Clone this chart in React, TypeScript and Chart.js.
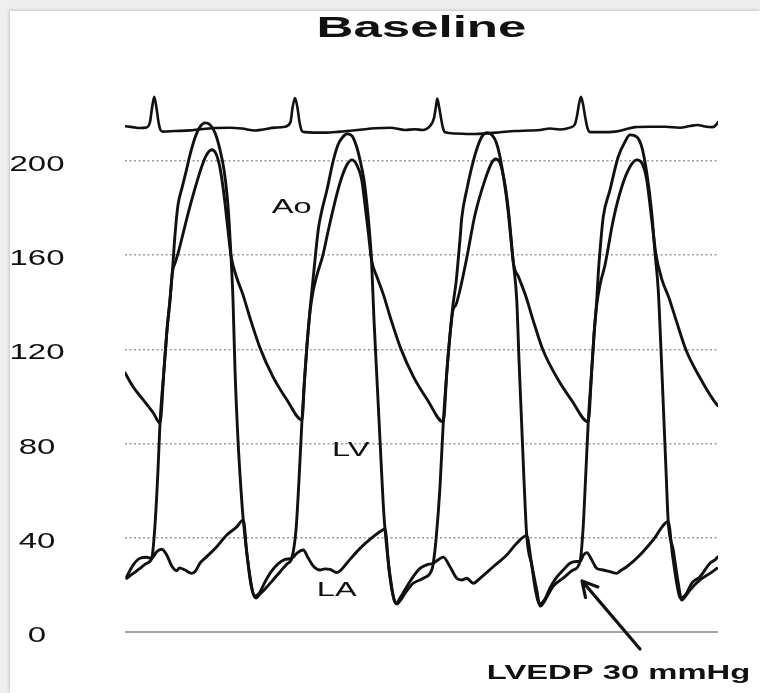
import React, { useEffect, useRef } from 'react';
import { Chart, registerables, LinearScale } from 'chart.js';

Chart.register(...registerables);

// ---- Pressure tracings (time in ms, pressure in mmHg) ----
const lvTime = [
  7, 33, 60, 87, 107, 120, 132, 140, 156, 168, 180, 190, 200, 212, 228, 244, 260, 280, 300, 320,
  340, 360, 380, 396, 408, 416, 424, 432, 440, 452, 464, 473, 496, 512, 524, 540, 564, 592, 620, 648,
  667, 684, 696, 708, 718, 728, 740, 752, 764, 774, 788, 808, 832, 852, 872, 888, 908, 924, 940, 956,
  968, 978, 986, 996, 1008, 1020, 1032, 1040, 1060, 1076, 1088, 1100, 1124, 1153, 1193, 1227, 1233, 1244, 1260, 1273,
  1288, 1300, 1312, 1324, 1332, 1340, 1347, 1367, 1400, 1427, 1449, 1468, 1484, 1500, 1520, 1532, 1542, 1553, 1567, 1576,
  1586, 1596, 1607, 1627, 1647, 1660, 1676, 1692, 1713, 1753, 1792, 1820, 1832, 1842, 1853, 1867, 1876, 1887, 1894, 1902,
  1913, 1940, 1973, 2000, 2020, 2047, 2067, 2087, 2107, 2120, 2133, 2144, 2154, 2164, 2173, 2193, 2213, 2227, 2240, 2260,
  2300, 2340, 2367,
];
const lvPressure = [
  22.8, 24.9, 27.0, 29.2, 31.3, 45.4, 68.8, 88.7, 111.3, 128.2, 141.0, 153.7, 168.6, 181.3, 188.5, 195.3, 202.5, 209.8, 214.4, 216.1,
  215.3, 211.9, 204.7, 196.2, 185.6, 174.9, 159.7, 141.0, 111.3, 81.5, 60.3, 47.6, 26.3, 16.6, 14.4, 16.1, 18.7, 22.1, 25.5, 28.9,
  31.3, 43.3, 64.5, 90.0, 107.0, 121.9, 136.7, 149.5, 162.2, 171.5, 179.2, 187.7, 199.6, 206.8, 210.2, 211.5, 210.6, 206.8, 200.4, 191.9,
  181.3, 169.9, 158.0, 132.5, 107.0, 81.5, 56.1, 43.7, 24.2, 13.6, 11.9, 13.2, 17.0, 20.7, 22.8, 26.3, 29.2, 39.1, 61.6, 88.7,
  111.3, 126.1, 138.9, 148.2, 157.1, 166.5, 175.8, 187.7, 202.5, 210.2, 211.9, 211.0, 208.1, 201.7, 189.0, 179.2, 168.6, 157.1, 141.0, 115.5,
  90.0, 64.5, 40.8, 28.5, 17.8, 11.0, 12.7, 15.7, 19.5, 22.9, 26.3, 29.9, 43.3, 64.5, 89.2, 111.3, 126.1, 141.0, 153.7, 164.3,
  176.2, 187.7, 201.7, 208.1, 211.0, 210.2, 205.9, 194.9, 177.9, 160.9, 145.2, 119.7, 94.3, 68.8, 46.7, 34.8, 20.8, 13.6, 14.9, 17.8,
  22.1, 24.9, 27.0,
];

const aoTime = [
  0, 33, 73, 113, 140, 156, 168, 180, 190, 202, 216, 232, 252, 276, 300, 322, 347, 364, 380, 396,
  411, 424, 446, 472, 500, 540, 592, 648, 708, 718, 728, 740, 752, 768, 792, 812, 832, 852, 872, 890,
  907, 927, 947, 960, 973, 986, 1008, 1034, 1062, 1102, 1154, 1210, 1273, 1288, 1300, 1312, 1324, 1340, 1367, 1400,
  1440, 1467, 1482, 1500, 1520, 1532, 1542, 1553, 1576, 1604, 1632, 1672, 1728, 1788, 1853, 1867, 1876, 1887, 1900, 1920,
  1953, 1987, 2020, 2047, 2067, 2087, 2107, 2124, 2148, 2176, 2204, 2244, 2300, 2356, 2372,
];
const aoPressure = [
  110.0, 104.0, 98.5, 93.0, 88.7, 111.3, 128.2, 141.0, 152.9, 157.1, 162.2, 169.0, 177.5, 186.8, 195.3, 201.7, 204.7, 203.0, 197.0, 185.6,
  171.5, 159.7, 150.7, 143.1, 133.3, 120.6, 108.3, 98.5, 90.0, 107.0, 121.9, 135.9, 144.4, 151.6, 160.1, 169.9, 179.2, 187.7, 194.5, 198.7,
  200.4, 198.3, 191.9, 181.3, 169.9, 158.0, 150.7, 143.1, 133.3, 120.6, 108.3, 98.5, 89.2, 111.3, 126.1, 136.7, 138.9, 145.2, 158.8, 177.1,
  191.9, 199.2, 200.8, 199.2, 189.8, 180.5, 169.9, 157.1, 150.3, 142.3, 132.5, 119.7, 107.9, 98.1, 89.2, 111.3, 126.1, 138.9, 147.3, 155.8,
  174.9, 188.9, 197.5, 200.4, 199.2, 191.9, 174.9, 160.1, 149.5, 141.8, 132.5, 119.7, 107.9, 98.1, 96.0,
];

const laTime = [
  7, 33, 60, 87, 107, 127, 147, 167, 187, 207, 218, 240, 267, 282, 300, 327, 367, 407, 447, 473,
  488, 504, 518, 530, 540, 560, 584, 612, 640, 667, 688, 713, 733, 753, 780, 800, 820, 847, 860, 887,
  940, 993, 1024, 1040, 1056, 1072, 1086, 1100, 1124, 1153, 1180, 1207, 1233, 1252, 1273, 1300, 1327, 1347, 1367, 1393,
  1420, 1473, 1527, 1567, 1607, 1624, 1642, 1658, 1680, 1700, 1724, 1753, 1780, 1807, 1820, 1834, 1847, 1867, 1887, 1913,
  1940, 1967, 1980, 2007, 2060, 2113, 2173, 2190, 2208, 2222, 2244, 2268, 2300, 2340, 2360, 2370,
];
const laPressure = [
  23.5, 28.5, 31.3, 31.7, 31.3, 34.1, 35.1, 32.7, 28.0, 26.0, 27.2, 26.3, 24.9, 25.9, 29.2, 32.0, 36.2, 41.2, 44.6, 47.6,
  32.7, 20.0, 15.3, 15.7, 17.0, 21.2, 25.5, 28.9, 30.8, 31.3, 33.5, 34.8, 31.4, 28.0, 26.3, 26.8, 26.6, 25.2, 25.9, 29.2,
  35.5, 40.5, 42.9, 43.7, 26.3, 15.7, 12.3, 14.4, 18.7, 23.5, 27.0, 28.5, 29.2, 30.6, 31.8, 27.7, 22.8, 22.1, 22.8, 20.7,
  22.8, 27.7, 32.7, 37.7, 40.9, 30.6, 17.8, 11.9, 14.0, 18.7, 22.9, 26.3, 29.2, 29.9, 29.9, 32.7, 33.7, 30.6, 27.0, 26.3,
  25.6, 24.9, 25.9, 27.7, 32.7, 39.1, 46.8, 32.7, 20.0, 14.4, 16.1, 20.8, 23.5, 29.2, 30.6, 31.8,
];

// ---- ECG (time in ms, mV) ----
const ecgTime = [
  0, 30, 60, 84, 100, 108, 117, 126, 134, 142, 152, 200, 260, 300, 360, 420, 468, 520, 552, 600,
  640, 662, 670, 680, 690, 698, 708, 720, 800, 860, 940, 1000, 1060, 1120, 1160, 1190, 1220, 1236, 1244, 1249,
  1256, 1264, 1272, 1280, 1320, 1400, 1440, 1500, 1560, 1620, 1660, 1700, 1740, 1780, 1800, 1808, 1816, 1824, 1832, 1840,
  1850, 1860, 1900, 1960, 2000, 2040, 2100, 2160, 2220, 2260, 2290, 2320, 2350, 2364, 2372,
];
const ecgVoltage = [
  0.1, 0.07, 0.035, 0.05, 0.26, 0.79, 1.21, 0.79, 0.26, -0.04, -0.1, -0.08, -0.055, -0.013, 0.035, 0.048, 0.015, -0.06, -0.02, 0.05,
  0.085, 0.26, 0.79, 1.17, 0.79, 0.26, -0.08, -0.12, -0.14, -0.1, -0.03, 0.025, 0.048, -0.04, -0.013, -0.04, 0.11, 0.41, 0.86, 1.15,
  0.86, 0.41, 0.03, -0.126, -0.17, -0.19, -0.17, -0.126, -0.08, -0.06, -0.04, 0.015, -0.02, 0.05, 0.18, 0.49, 0.94, 1.21, 0.94, 0.49,
  0.03, -0.12, -0.12, -0.1, -0.02, 0.07, 0.085, 0.085, 0.048, 0.11, 0.15, 0.09, 0.07, 0.15, 0.26,
];

const pressureTicks = [0, 40, 80, 120, 160, 200];

// Trace names placed next to their curves
const traceNames = ['Ao', 'LV', 'LA'];
const traceNameTime = [667, 903, 847];
const traceNamePressure = [180.5, 77.3, 17.8];

// End-diastolic pressure callout
const calloutText = 'LVEDP 30 mmHg';
const calloutTextAt = { time: 1974, pressure: -17.6 };
const calloutArrowFrom = { time: 2060, pressure: -7.2 };
const calloutArrowTo = { time: 1828, pressure: 21.7 };

const titleText = 'Baseline';

const FONT = '"Liberation Sans", Arial, Helvetica, sans-serif';
const INK = '#111';

const toPoints = (xs: number[], ys: number[]) => xs.map((x, i) => ({ x, y: ys[i] }));

// Linear scale whose tick labels are drawn horizontally widened and centred at a fixed x
const TICK_LABEL_CENTER_X = 37;
const TICK_LABEL_STRETCH = 1.5;
const TICK_LABEL_DROP = 4;
class WideLabelScale extends LinearScale {
  static id = 'wideLabelLinear';
  static defaults = LinearScale.defaults;
  _computeLabelArea() {
    return undefined;
  }
  drawLabels(chartArea: any) {
    const ctx = this.ctx;
    const items: any[] = (this as any).getLabelItems(chartArea);
    const lx = items.length ? items[0].options.translation[0] : this.right;
    ctx.save();
    ctx.translate(TICK_LABEL_CENTER_X, TICK_LABEL_DROP);
    ctx.scale(TICK_LABEL_STRETCH, 1);
    ctx.translate(-lx, 0);
    super.drawLabels(chartArea);
    ctx.restore();
  }
}
Chart.register(WideLabelScale as any);

function drawWideText(ctx: CanvasRenderingContext2D, text: string, x: number, y: number, font: string, stretch: number, baseline: CanvasTextBaseline = 'middle') {
  ctx.save();
  ctx.translate(x, y);
  ctx.scale(stretch, 1);
  ctx.font = font;
  ctx.fillStyle = INK;
  ctx.textAlign = 'center';
  ctx.textBaseline = baseline;
  ctx.fillText(text, 0, 0);
  ctx.restore();
}

const annotationsPlugin = {
  id: 'traceAnnotations',
  afterDraw(chart: any) {
    const { ctx, chartArea } = chart;
    const x = chart.scales.x;
    const y = chart.scales.y;

    // Title
    drawWideText(ctx, titleText, (chartArea.left + chartArea.right) / 2, 37, `bold 30px ${FONT}`, 1.7, 'alphabetic');

    // Trace names
    traceNames.forEach((name, i) => {
      drawWideText(ctx, name, x.getPixelForValue(traceNameTime[i]), y.getPixelForValue(traceNamePressure[i]), `21px ${FONT}`, 1.55);
    });

    // Arrow
    const x0 = x.getPixelForValue(calloutArrowFrom.time);
    const y0 = y.getPixelForValue(calloutArrowFrom.pressure);
    const x1 = x.getPixelForValue(calloutArrowTo.time);
    const y1 = y.getPixelForValue(calloutArrowTo.pressure);
    const ang = Math.atan2(y0 - y1, x0 - x1);
    const head = 17;
    const spread = 0.5;
    ctx.save();
    ctx.strokeStyle = INK;
    ctx.lineWidth = 3.2;
    ctx.lineCap = 'round';
    ctx.lineJoin = 'round';
    ctx.beginPath();
    ctx.moveTo(x0, y0);
    ctx.lineTo(x1, y1);
    ctx.moveTo(x1 + head * Math.cos(ang + spread), y1 + head * Math.sin(ang + spread));
    ctx.lineTo(x1, y1);
    ctx.lineTo(x1 + head * Math.cos(ang - spread), y1 + head * Math.sin(ang - spread));
    ctx.stroke();
    ctx.restore();

    drawWideText(ctx, calloutText, x.getPixelForValue(calloutTextAt.time), y.getPixelForValue(calloutTextAt.pressure), `bold 21px ${FONT}`, 1.56);
  },
};

const traceStyle = {
  borderColor: INK,
  borderWidth: 2.9,
  pointRadius: 0,
  cubicInterpolationMode: 'monotone' as const,
  borderJoinStyle: 'round' as const,
  borderCapStyle: 'round' as const,
  fill: false,
};

export default function App() {
  const canvasRef = useRef<HTMLCanvasElement | null>(null);

  useEffect(() => {
    const canvas = canvasRef.current;
    if (!canvas) return;
    Chart.defaults.font.family = FONT;

    const chart = new Chart(canvas, {
      type: 'line',
      data: {
        datasets: [
          { label: 'ECG', data: toPoints(ecgTime, ecgVoltage), yAxisID: 'ecg', ...traceStyle, borderWidth: 2.6 },
          { label: 'Ao', data: toPoints(aoTime, aoPressure), yAxisID: 'y', ...traceStyle },
          { label: 'LV', data: toPoints(lvTime, lvPressure), yAxisID: 'y', ...traceStyle },
          { label: 'LA', data: toPoints(laTime, laPressure), yAxisID: 'y', ...traceStyle },
        ],
      },
      options: {
        responsive: false,
        animation: false,
        events: [],
        layout: { padding: { top: 76, right: 42, bottom: 61, left: 0 } },
        plugins: {
          legend: { display: false },
          tooltip: { enabled: false },
          title: { display: false },
        },
        scales: {
          x: { type: 'linear', min: 0, max: 2372, display: false },
          y: {
            type: 'wideLabelLinear' as any,
            position: 'left',
            min: 0,
            max: 236,
            afterBuildTicks: (scale: any) => {
              scale.ticks = pressureTicks.map((value) => ({ value }));
            },
            afterFit: (scale: any) => {
              scale.width = 125;
            },
            grid: {
              drawTicks: false,
              color: (c: any) => (c.tick && c.tick.value === 0 ? '#a4a4a4' : '#9c9c9c'),
              lineWidth: (c: any) => (c.tick && c.tick.value === 0 ? 2 : 1.4),
            },
            border: {
              display: false,
              dash: (c: any) => (c.tick && c.tick.value === 0 ? [] : [2, 2.5]),
            },
            ticks: {
              padding: 0,
              crossAlign: 'center',
              color: INK,
              font: { family: FONT, size: 22 },
            },
          } as any,
          ecg: { type: 'linear', min: -19, max: 2, display: false },
        },
      },
      plugins: [annotationsPlugin],
    });

    return () => chart.destroy();
  }, []);

  return (
    <div style={{ position: 'absolute', left: 0, top: 0, width: 760, height: 693, background: '#efefef', overflow: 'hidden' }}>
      <div
        style={{
          position: 'absolute',
          left: 10,
          top: 11,
          right: 0,
          bottom: 0,
          background: '#ffffff',
          boxShadow: '-1px -1px 3px rgba(0,0,0,0.18)',
        }}
      />
      <canvas ref={canvasRef} width={760} height={693} style={{ position: 'absolute', left: 0, top: 0, display: 'block' }} />
    </div>
  );
}
